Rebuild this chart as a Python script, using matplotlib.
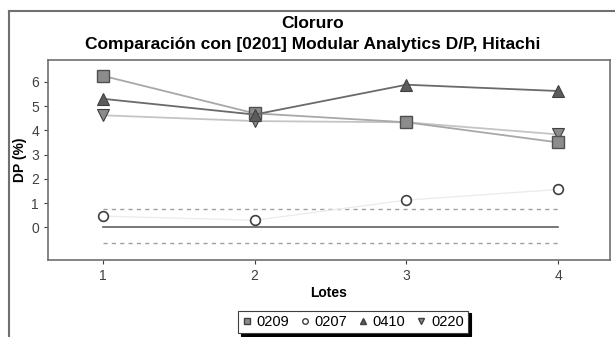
import matplotlib.pyplot as plt
from matplotlib.lines import Line2D

lotes = [1, 2, 3, 4]
s0209 = [6.25, 4.7, 4.33, 3.5]
s0207 = [0.46, 0.29, 1.12, 1.56]
s0410 = [5.3, 4.65, 5.88, 5.62]
s0220 = [4.62, 4.38, 4.33, 3.83]
lim_sup = 0.74
lim_inf = -0.66

plt.rcParams['font.family'] = ['Liberation Sans', 'DejaVu Sans']

fig = plt.figure(figsize=(6.15, 3.37), dpi=100)
ax = fig.add_axes([48/615, 1-260/337, 562/615, 200/337])

# limites y referencia
ax.plot([1, 4], [0, 0], color='#606060', lw=1.2)
ax.plot([1, 4], [lim_sup, lim_sup], color='#a0a0a0', lw=1, ls=(0, (3, 3)))
ax.plot([1, 4], [lim_inf, lim_inf], color='#a0a0a0', lw=1, ls=(0, (3, 3)))

ax.plot(lotes, s0207, color='#ececec', lw=1, marker='o', ms=7,
        mfc='white', mec='#404040', mew=1.2, label='0207')
ax.plot(lotes, s0220, color='#c4c4c4', lw=1.3, marker='v', ms=8,
        mfc='#8a8a8a', mec='#404040', mew=0.8, label='0220')
ax.plot(lotes, s0209, color='#a8a8a8', lw=1.3, marker='s', ms=8,
        mfc='#8c8c8c', mec='#505050', mew=1, label='0209')
ax.plot(lotes, s0410, color='#6a6a6a', lw=1.3, marker='^', ms=8,
        mfc='#5c5c5c', mec='#404040', mew=0.8, label='0410')

ax.set_xlim(0.64, 4.34)
ax.set_ylim(-1.35, 6.9)
ax.set_xticks(lotes)
ax.set_yticks(range(0, 7))
ax.tick_params(labelsize=10, colors='#404040', length=3, width=0.8)
for sp in ax.spines.values():
    sp.set_color('#707070')
    sp.set_linewidth(1.2)

ax.set_xlabel('Lotes', fontsize=10, fontweight='bold', labelpad=2)
ax.set_ylabel('DP (%)', fontsize=10, fontweight='bold', labelpad=3)

fig.text(0.508, 1-23/337, 'Cloruro', ha='center', va='center', fontsize=12.5, fontweight='bold')
fig.text(0.508, 1-45/337, 'Comparación con [0201] Modular Analytics D/P, Hitachi',
         ha='center', va='center', fontsize=12.5, fontweight='bold')

# marco exterior
fig.add_artist(Line2D([9/615, 9/615], [0, 1-11/337], color='#707070', lw=1.5))
fig.add_artist(Line2D([9/615, 1], [1-11/337, 1-11/337], color='#707070', lw=1.5))

handles = [
    Line2D([], [], ls='none', marker='s', ms=5, mfc='#8c8c8c', mec='#404040'),
    Line2D([], [], ls='none', marker='o', ms=4, mfc='white', mec='#404040'),
    Line2D([], [], ls='none', marker='^', ms=5, mfc='#5c5c5c', mec='#404040'),
    Line2D([], [], ls='none', marker='v', ms=5, mfc='#8a8a8a', mec='#404040'),
]
leg = fig.legend(handles, ['0209', '0207', '0410', '0220'], loc='center',
                 bbox_to_anchor=(353/615, 1-322/337), ncol=4, fontsize=10.5,
                 frameon=True, fancybox=False, shadow={'color': 'black', 'alpha': 1},
                 handlelength=0.6, handletextpad=0.35, columnspacing=0.8,
                 borderpad=0.3, edgecolor='#404040')
leg.get_frame().set_linewidth(0.8)

fig.savefig('out.png', dpi=100)
